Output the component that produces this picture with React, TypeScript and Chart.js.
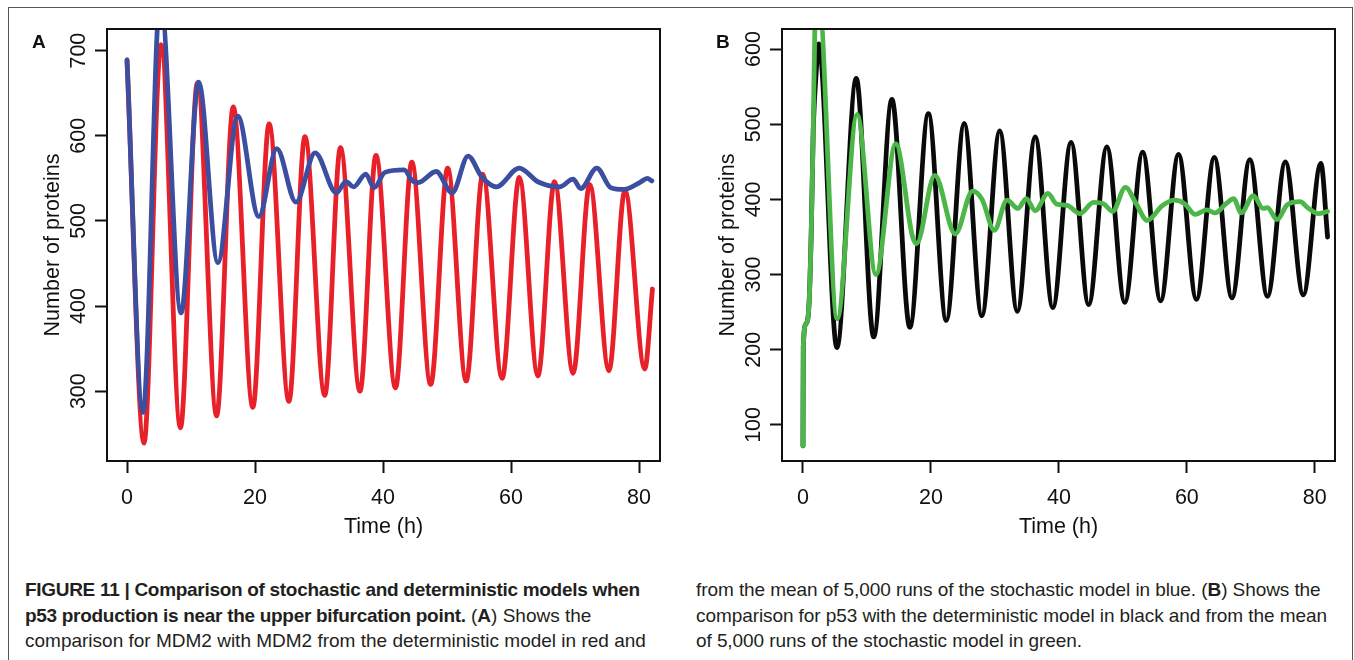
import React, { useEffect, useRef } from "react";
import { Chart, registerables } from "chart.js";

Chart.register(...registerables);

// ---------- tick labels ----------
const xTicks = [0, 20, 40, 60, 80];
const yTicksA = [300, 400, 500, 600, 700];
const yTicksB = [100, 200, 300, 400, 500, 600];

// ---------- Panel A: MDM2 ----------
// deterministic model (red)
const mdm2DetT = [0, 2.65, 5.3, 8.35, 11.0, 14.0, 16.6, 19.66, 22.2, 25.3, 27.8, 30.9, 33.35, 36.4, 38.9, 41.95, 44.5, 47.45, 50.1, 53.0, 55.6, 58.6, 61.3, 64.2, 66.8, 69.7, 72.3, 75.3, 77.8, 80.9, 82.1];
const mdm2DetV = [689, 239, 707, 257, 662, 271, 634, 281, 614, 288, 599, 295, 586, 300, 577, 304, 569, 308, 562, 312, 555, 315, 551, 318, 546, 321, 543, 324, 536, 326, 420];
// mean of stochastic runs (blue)
const mdm2StoT = [0, 2.5, 5.2, 8.45, 11.2, 14.2, 17.3, 20.6, 23.4, 26.4, 29.4, 32.7, 34.2, 35.4, 37.3, 38.6, 40.3, 43.3, 44.6, 45.5, 48.3, 50.8, 53.3, 55.4, 57.7, 61.3, 64.2, 67.6, 69.7, 70.9, 73.4, 75.6, 77.7, 80.1, 81.3, 82.0];
const mdm2StoV = [689, 275, 765, 392, 663, 451, 623, 505, 585, 522, 580, 533, 546, 540, 555, 539, 557, 560, 547, 545, 558, 533, 576, 552, 540, 562, 546, 540, 549, 538, 562, 539, 537, 545, 550, 547];

// ---------- Panel B: p53 ----------
// deterministic model (black)
const p53DetT = [0, 0.05, 0.5, 0.95, 1.3, 1.6, 2.0, 2.47, 5.3, 8.33, 11.05, 13.9, 16.7, 19.6, 22.4, 25.2, 27.95, 30.75, 33.5, 36.3, 39.05, 41.9, 44.65, 47.5, 50.3, 53.1, 55.9, 58.7, 61.5, 64.3, 67.05, 69.85, 72.6, 75.4, 78.2, 80.95, 82.0];
const p53DetV = [72, 205, 235, 262, 360, 490, 560, 607, 203, 561, 217, 533, 230, 514, 239, 501, 245, 491, 251, 483, 256, 476, 260, 470, 263, 463, 265, 460, 267, 456, 269, 453, 271, 450, 273, 448, 350];
// mean of stochastic runs (green)
const p53StoT = [0, 0.05, 0.5, 0.95, 1.3, 1.6, 1.85, 2.35, 5.35, 8.46, 11.4, 14.5, 17.1, 17.75, 20.6, 23.8, 26.5, 28.0, 29.9, 31.9, 33.6, 34.9, 36.3, 38.3, 39.6, 41.3, 43.3, 45.4, 47.0, 48.4, 50.4, 52.1, 53.8, 56.2, 58.1, 59.7, 61.3, 63.1, 64.4, 66.1, 67.3, 68.5, 70.4, 71.9, 72.6, 74.1, 75.7, 77.7, 78.9, 80.5, 82.0];
const p53StoV = [72, 205, 235, 262, 360, 490, 627, 680, 241, 513, 300, 474, 351, 341, 432, 354, 411, 400, 359, 399, 388, 401, 385, 408, 394, 392, 381, 396, 394, 384, 416, 394, 372, 392, 399, 394, 380, 386, 382, 394, 401, 382, 405, 388, 389, 373, 393, 397, 389, 381, 384];

const FONT = "'Liberation Sans', Arial, Helvetica, sans-serif";
const INK = "#111";

const boxPlugin = {
  id: "rbox",
  afterDraw(chart: any) {
    const { ctx, chartArea: a } = chart;
    ctx.save();
    ctx.strokeStyle = INK;
    ctx.lineWidth = 2;
    ctx.strokeRect(a.left, a.top, a.right - a.left, a.bottom - a.top);
    ctx.restore();
  },
};

type Series = { t: number[]; v: number[]; color: string; width: number };

function makeConfig(p: {
  series: Series[];
  yTicks: number[];
  xMin: number;
  xMax: number;
  yMin: number;
  yMax: number;
  padLeft: number;
  padRight: number;
}) {
  const tickFont = { family: FONT, size: 21.5 };
  return {
    type: "line",
    data: {
      datasets: p.series.map((s) => ({
        data: s.t.map((x, i) => ({ x, y: s.v[i] })),
        borderColor: s.color,
        borderWidth: s.width,
        pointRadius: 0,
        fill: false,
        cubicInterpolationMode: "monotone",
        borderCapStyle: "round",
        borderJoinStyle: "round",
      })),
    },
    options: {
      animation: false,
      responsive: false,
      devicePixelRatio: 1,
      layout: { padding: { left: p.padLeft, right: p.padRight, top: 29, bottom: 20 } },
      plugins: { legend: { display: false }, tooltip: { enabled: false } },
      scales: {
        x: {
          type: "linear",
          min: p.xMin,
          max: p.xMax,
          afterBuildTicks: (s: any) => {
            s.ticks = xTicks.map((value) => ({ value }));
          },
          afterFit: (s: any) => {
            s.height = 79;
          },
          grid: { display: true, drawOnChartArea: false, drawTicks: true, tickLength: 12, tickWidth: 2, tickColor: INK },
          border: { display: false },
          ticks: { font: tickFont, color: INK, padding: 12, maxRotation: 0, autoSkip: false },
          title: { display: true, text: "Time (h)", font: tickFont, color: INK, padding: { top: 0, bottom: 0 } },
        },
        y: {
          type: "linear",
          min: p.yMin,
          max: p.yMax,
          afterBuildTicks: (s: any) => {
            s.ticks = p.yTicks.map((value) => ({ value }));
          },
          afterFit: (s: any) => {
            s.width = 87;
          },
          grid: { display: true, drawOnChartArea: false, drawTicks: true, tickLength: 12, tickWidth: 2, tickColor: INK },
          border: { display: false },
          ticks: { font: tickFont, color: INK, padding: -2, minRotation: 90, maxRotation: 90, crossAlign: "center", autoSkip: false },
          title: { display: true, text: "Number of proteins", font: tickFont, color: INK, padding: { top: 20, bottom: 0 } },
        },
      },
    },
    plugins: [boxPlugin],
  };
}

function Panel(props: { left: number; width: number; config: any }) {
  const ref = useRef<HTMLCanvasElement | null>(null);
  useEffect(() => {
    const chart = new Chart(ref.current as HTMLCanvasElement, props.config as any);
    return () => chart.destroy();
  }, []);
  return (
    <canvas
      ref={ref}
      width={props.width}
      height={560}
      style={{ position: "absolute", left: props.left, top: 0, width: props.width, height: 560 }}
    />
  );
}

const configA = makeConfig({
  series: [
    { t: mdm2StoT, v: mdm2StoV, color: "#3b4ea0", width: 4.8 },
    { t: mdm2DetT, v: mdm2DetV, color: "#e8202a", width: 4.8 },
  ],
  yTicks: yTicksA,
  xMin: -3.125,
  xMax: 83.28,
  yMin: 218,
  yMax: 725.4,
  padLeft: 20,
  padRight: 20,
});

const configB = makeConfig({
  series: [
    { t: p53StoT, v: p53StoV, color: "#4cb748", width: 4.8 },
    { t: p53DetT, v: p53DetV, color: "#0a0a0a", width: 4.8 },
  ],
  yTicks: yTicksB,
  xMin: -3.28,
  xMax: 83.16,
  yMin: 52,
  yMax: 626.7,
  padLeft: 15,
  padRight: 19,
});

const capStyle: React.CSSProperties = {
  position: "absolute",
  fontFamily: FONT,
  fontSize: 19,
  lineHeight: "25.6px",
  color: "#231f20",
  whiteSpace: "nowrap",
};

const boldTight: React.CSSProperties = { fontWeight: 700, letterSpacing: "-0.3px" };

export default function App() {
  return (
    <div
      style={{
        position: "fixed",
        left: 0,
        top: 0,
        width: 1354,
        height: 660,
        background: "#fff",
        overflow: "hidden",
      }}
    >
      <div
        style={{
          position: "absolute",
          left: 8,
          top: 7,
          width: 1343,
          height: 800,
          border: "1px solid #555",
        }}
      />
      <Panel left={0} width={680} config={configA} />
      <Panel left={680} width={674} config={configB} />
      <div style={{ position: "absolute", left: 32, top: 32, fontFamily: FONT, fontWeight: 700, fontSize: 19, lineHeight: "19px", color: INK }}>A</div>
      <div style={{ position: "absolute", left: 716, top: 32, fontFamily: FONT, fontWeight: 700, fontSize: 19, lineHeight: "19px", color: INK }}>B</div>
      <div style={{ ...capStyle, left: 25, top: 577 }}>
        <div><span style={boldTight}>FIGURE 11 | Comparison of stochastic and deterministic models when</span></div>
        <div>
          <span style={boldTight}>p53 production is near the upper bifurcation point.</span> (<b>A</b>) Shows the
        </div>
        <div>comparison for MDM2 with MDM2 from the deterministic model in red and</div>
      </div>
      <div style={{ ...capStyle, left: 696, top: 577, letterSpacing: "-0.08px" }}>
        <div>
          from the mean of 5,000 runs of the stochastic model in blue. (<b>B</b>) Shows the
        </div>
        <div>comparison for p53 with the deterministic model in black and from the mean</div>
        <div>of 5,000 runs of the stochastic model in green.</div>
      </div>
    </div>
  );
}
